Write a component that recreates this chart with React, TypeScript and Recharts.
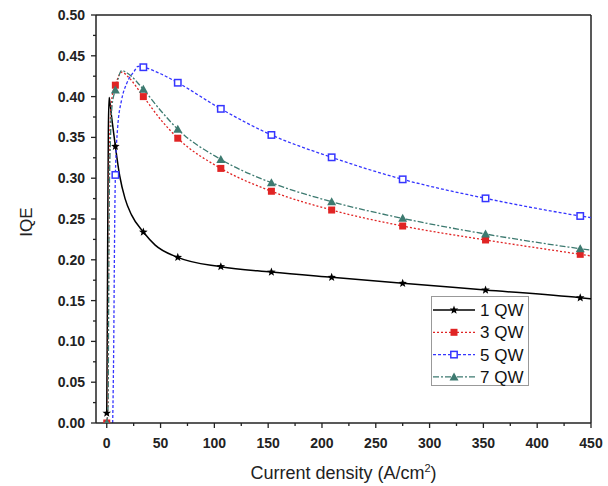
import { Label, Line, LineChart, ReferenceLine, XAxis, YAxis } from 'recharts'

const FONT = '"Liberation Sans", Arial, sans-serif'

const X_MAJOR = [0, 50, 100, 150, 200, 250, 300, 350, 400, 450]
const X_MINOR = [25, 75, 125, 175, 225, 275, 325, 375, 425]
const Y_MAJOR = [0, 0.05, 0.1, 0.15, 0.2, 0.25, 0.3, 0.35, 0.4, 0.45, 0.5]
const Y_MINOR = [0.025, 0.075, 0.125, 0.175, 0.225, 0.275, 0.325, 0.375, 0.425, 0.475]

// marker positions shared by all curves
const MARKER_X = [8, 34, 66, 106, 153, 209, 275, 352, 440]

const QW1_X = [0, 0.5, 1, 1.5, 2.2, 3, 4.5, 8, 12, 17, 23, 34, 45, 66, 106, 153, 209, 275, 352, 440, 450]
const QW1_Y = [0.012, 0.12, 0.26, 0.36, 0.399, 0.392, 0.375, 0.339, 0.303, 0.275, 0.255, 0.234, 0.218, 0.203, 0.1916, 0.185, 0.1785, 0.1712, 0.163, 0.1535, 0.1522]

const QW3_X = [0, 1, 2, 3, 5, 8, 14, 20, 34, 50, 66, 106, 153, 209, 275, 352, 440, 450]
const QW3_Y = [0, 0.02, 0.27, 0.36, 0.4, 0.414, 0.43, 0.424, 0.4, 0.372, 0.349, 0.312, 0.284, 0.261, 0.2414, 0.2243, 0.2067, 0.2047]

const QW5_X = [5.5, 6.5, 7.2, 8, 10, 13.8, 18.5, 25.5, 29, 34, 50, 66, 106, 153, 209, 275, 352, 440, 450]
const QW5_Y = [0, 0.1, 0.22, 0.304, 0.36, 0.396, 0.416, 0.431, 0.437, 0.436, 0.428, 0.417, 0.385, 0.353, 0.3256, 0.2986, 0.2753, 0.2537, 0.2516]

const QW7_X = [0, 1.2, 2.2, 3.5, 5, 8, 14, 20, 34, 50, 66, 106, 153, 209, 275, 352, 440, 450]
const QW7_Y = [0, 0.02, 0.26, 0.35, 0.39, 0.408, 0.432, 0.428, 0.409, 0.383, 0.36, 0.323, 0.2945, 0.2712, 0.2508, 0.2316, 0.2136, 0.2118]

const toPoints = (xs: number[], ys: number[]) => xs.map((x, i) => ({ x, y: ys[i] }))

type Shape = 'star' | 'square' | 'open' | 'triangle'

const SERIES = [
  { name: '1 QW', data: toPoints(QW1_X, QW1_Y), marks: [0, ...MARKER_X], color: '#000000', dash: undefined, width: 1.5, shape: 'star' as Shape },
  { name: '3 QW', data: toPoints(QW3_X, QW3_Y), marks: [0, ...MARKER_X], color: '#e02424', dash: '2 2', width: 1.3, shape: 'square' as Shape },
  { name: '5 QW', data: toPoints(QW5_X, QW5_Y), marks: MARKER_X, color: '#3535ff', dash: '3 2', width: 1.3, shape: 'open' as Shape },
  { name: '7 QW', data: toPoints(QW7_X, QW7_Y), marks: [0, ...MARKER_X], color: '#3d7a70', dash: '6 2 2 2', width: 1.3, shape: 'triangle' as Shape },
]

function Marker({ cx, cy, shape, color }: { cx: number; cy: number; shape: Shape; color: string }) {
  if (shape === 'star') {
    const pts: string[] = []
    for (let i = 0; i < 10; i++) {
      const r = i % 2 === 0 ? 4.5 : 1.9
      const a = (Math.PI / 5) * i - Math.PI / 2
      pts.push(`${cx + r * Math.cos(a)},${cy + r * Math.sin(a)}`)
    }
    return <polygon points={pts.join(' ')} fill={color} />
  }
  if (shape === 'square') return <rect x={cx - 3.5} y={cy - 3.5} width={7} height={7} fill={color} />
  if (shape === 'open')
    return <rect x={cx - 3.2} y={cy - 3.2} width={6.4} height={6.4} fill="#fff" stroke={color} strokeWidth={1.5} />
  return <polygon points={`${cx},${cy - 4.5} ${cx + 4.5},${cy + 3.5} ${cx - 4.5},${cy + 3.5}`} fill={color} />
}

const XTick = (props: any) => {
  const { x, y, payload } = props
  const major = X_MAJOR.includes(payload.value)
  return (
    <g>
      <line x1={x} x2={x} y1={y} y2={y + (major ? 5 : 3)} stroke="#222" strokeWidth={1.3} />
      {major && (
        <text x={x} y={y + 25} textAnchor="middle" fontSize={14} fontWeight="bold" fontFamily={FONT} fill="#222">
          {payload.value}
        </text>
      )}
    </g>
  )
}

const YTick = (props: any) => {
  const { x, y, payload } = props
  const major = Y_MAJOR.some((v) => Math.abs(v - payload.value) < 1e-9)
  return (
    <g>
      <line x1={x - (major ? 5 : 3)} x2={x} y1={y} y2={y} stroke="#222" strokeWidth={1.3} />
      {major && (
        <text x={x - 11} y={y + 5} textAnchor="end" fontSize={14} fontWeight="bold" fontFamily={FONT} fill="#222">
          {payload.value.toFixed(2)}
        </text>
      )}
    </g>
  )
}

function LegendBox() {
  return (
    <svg width={98} height={90} style={{ display: 'block' }}>
      <rect x={0.5} y={0.5} width={97} height={89} fill="#fff" stroke="#999" />
      {SERIES.map((s, i) => {
        const cy = 14 + i * 22.3
        return (
          <g key={s.name}>
            <line x1={2} x2={44} y1={cy} y2={cy} stroke={s.color} strokeWidth={s.width} strokeDasharray={s.dash} />
            <Marker cx={23} cy={cy} shape={s.shape} color={s.color} />
            <text x={49} y={cy + 6} fontSize={17} fontFamily={FONT} fill="#111">
              {s.name}
            </text>
          </g>
        )
      })}
    </svg>
  )
}

export default function App() {
  return (
    <div style={{ position: 'absolute', left: 0, top: 0, width: 608, height: 486, background: '#fff' }}>
      <LineChart width={608} height={486} margin={{ top: 15, right: 17, left: 0, bottom: 0 }}>
        <XAxis
          dataKey="x"
          type="number"
          domain={[-10, 450]}
          ticks={[...X_MAJOR, ...X_MINOR].sort((a, b) => a - b)}
          interval={0}
          height={63}
          tickSize={0}
          tickMargin={0}
          tickLine={false}
          tick={<XTick />}
          axisLine={{ stroke: '#222', strokeWidth: 1.5 }}
          allowDataOverflow
        >
          <Label
            content={(p: any) => (
              <text
                x={p.viewBox.x + p.viewBox.width / 2}
                y={p.viewBox.y + 56}
                textAnchor="middle"
                fontSize={18}
                fontFamily={FONT}
                fill="#222"
              >
                Current density (A/cm
                <tspan dy={-7} fontSize={11}>
                  2
                </tspan>
                <tspan dy={7}>)</tspan>
              </text>
            )}
          />
        </XAxis>
        <YAxis
          type="number"
          domain={[0, 0.5]}
          ticks={[...Y_MAJOR, ...Y_MINOR].sort((a, b) => a - b)}
          interval={0}
          width={96}
          tickSize={0}
          tickMargin={0}
          tickLine={false}
          tick={<YTick />}
          axisLine={{ stroke: '#222', strokeWidth: 1.5 }}
          allowDataOverflow
        >
          <Label
            content={() => (
              <text
                x={0}
                y={0}
                transform="translate(32, 222) rotate(-90)"
                textAnchor="middle"
                fontSize={17}
                fontFamily={FONT}
                fill="#222"
              >
                IQE
              </text>
            )}
          />
        </YAxis>
        <ReferenceLine y={0.5} stroke="#222" strokeWidth={1.5} />
        <ReferenceLine x={450} stroke="#222" strokeWidth={1.5} />
        {SERIES.map((s) => (
          <Line
            key={s.name}
            data={s.data}
            dataKey="y"
            name={s.name}
            type="monotone"
            stroke={s.color}
            strokeWidth={s.width}
            strokeDasharray={s.dash}
            isAnimationActive={false}
            activeDot={false}
            dot={(p: any) =>
              s.marks.includes(p.payload.x) ? (
                <Marker key={`${s.name}-${p.index}`} cx={p.cx} cy={p.cy} shape={s.shape} color={s.color} />
              ) : (
                <g key={`${s.name}-${p.index}`} />
              )
            }
          />
        ))}
      </LineChart>
      <div style={{ position: 'absolute', left: 431, top: 296 }}>
        <LegendBox />
      </div>
    </div>
  )
}
